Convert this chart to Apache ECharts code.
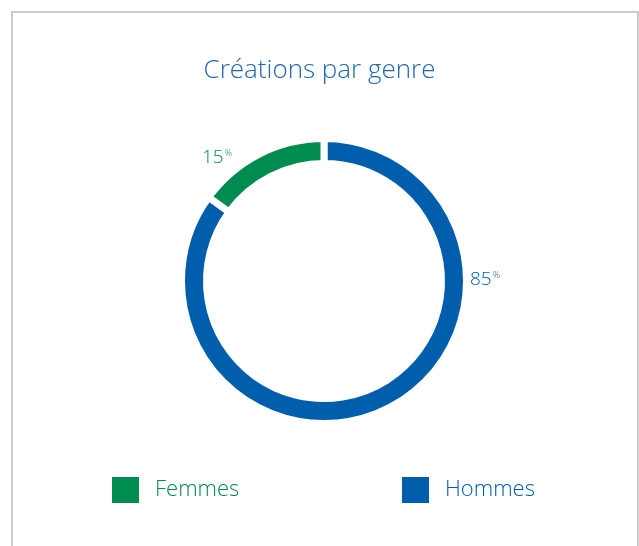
<!DOCTYPE html>
<html>
<head>
<meta charset="utf-8">
<script src="https://cdn.jsdelivr.net/npm/echarts@6/dist/echarts.min.js"></script>
<style>
  html, body { margin: 0; padding: 0; background: #fff; }
  #main { width: 639px; height: 546px; }
</style>
</head>
<body>
<div id="main"></div>
<script>
// données
let categories = ['Hommes', 'Femmes'];
let values = [85, 15];
let colors = ['#005ead', '#008b50'];
let legendOrder = ['Femmes', 'Hommes'];

let font = 'Open Sans';

let myChart = echarts.init(document.getElementById('main'));

let option = {
    animation: false,
    backgroundColor: '#fff',
    title: {
        text: 'Créations par genre',
        left: 'center',
        top: 53,
        textStyle: {
            color: '#2068b2',
            fontFamily: font,
            fontWeight: 300,
            fontSize: 26
        }
    },
    graphic: [
        {
            type: 'rect',
            shape: { x: 12, y: 12, width: 626, height: 560 },
            style: { fill: 'none', stroke: '#cccccc', lineWidth: 2 },
            silent: true
        }
    ],
    legend: [
        {
            data: [{ name: legendOrder[0], textStyle: { color: colors[1] } }],
            left: 110,
            top: 475,
            padding: 0,
            itemWidth: 29,
            itemHeight: 28,
            icon: 'rect',
            textStyle: { fontFamily: font, fontWeight: 300, fontSize: 22, padding: [0, 0, 0, 10] }
        },
        {
            data: [{ name: legendOrder[1], textStyle: { color: colors[0] } }],
            left: 400,
            top: 475,
            padding: 0,
            itemWidth: 29,
            itemHeight: 28,
            icon: 'rect',
            textStyle: { fontFamily: font, fontWeight: 300, fontSize: 22, padding: [0, 0, 0, 10] }
        }
    ],
    series: [
        {
            type: 'pie',
            center: [324, 281],
            radius: [117.5, 142.5],
            startAngle: 90,
            clockwise: true,
            itemStyle: { borderColor: '#fff', borderWidth: 7 },
            emphasis: { disabled: true },
            labelLine: { show: false },
            label: {
                show: true,
                position: 'outside',
                formatter: function (p) { return '{v|' + p.value + '}{p|%}'; },
                rich: {
                    v: { fontFamily: font, fontWeight: 300, fontSize: 19, color: 'inherit' },
                    p: { fontFamily: font, fontWeight: 300, fontSize: 9, color: 'inherit', verticalAlign: 'top', padding: [0, 0, 9, 1] }
                }
            },
            labelLayout: function (p) {
                if (p.dataIndex === 0) {
                    return { x: 470, y: 280, align: 'left', verticalAlign: 'middle' };
                }
                return { x: 202, y: 158, align: 'left', verticalAlign: 'middle' };
            },
            data: categories.map(function (c, i) {
                return {
                    name: c,
                    value: values[i],
                    itemStyle: { color: colors[i] },
                    label: { color: colors[i] }
                };
            })
        }
    ]
};

myChart.setOption(option);
</script>
</body>
</html>
